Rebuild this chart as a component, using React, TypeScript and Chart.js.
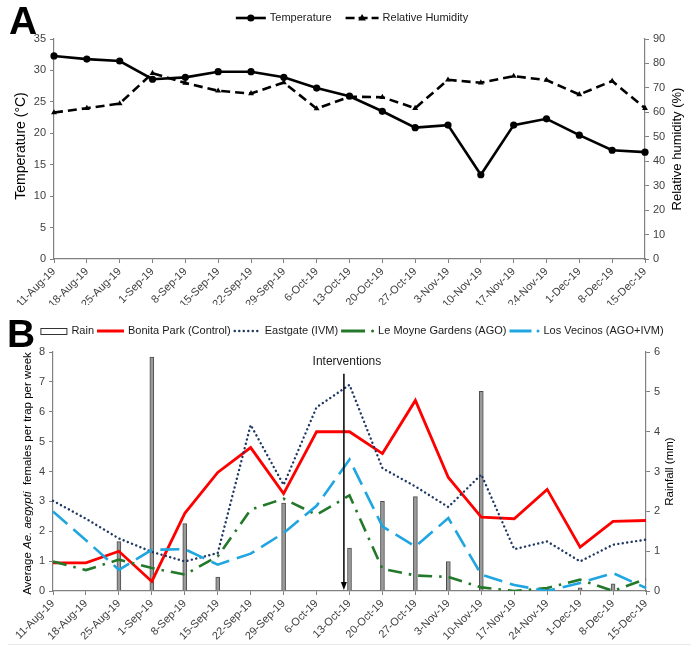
import React, { useEffect, useRef } from "react";
import { Chart, registerables } from "chart.js";

Chart.register(...registerables);

// Weekly sampling dates (both panels share the same weeks)
const weeks = [
  "11-Aug-19", "18-Aug-19", "25-Aug-19", "1-Sep-19", "8-Sep-19", "15-Sep-19",
  "22-Sep-19", "29-Sep-19", "6-Oct-19", "13-Oct-19", "20-Oct-19", "27-Oct-19",
  "3-Nov-19", "10-Nov-19", "17-Nov-19", "24-Nov-19", "1-Dec-19", "8-Dec-19",
  "15-Dec-19",
];

// Panel A: weather
const temperature = [
  32.3, 31.8, 31.5, 28.6, 28.9, 29.8, 29.8, 28.9, 27.2, 25.9, 23.5, 20.9,
  21.3, 13.4, 21.3, 22.3, 19.7, 17.3, 17.0,
];
const humidity = [
  59.9, 61.7, 63.6, 76.0, 72.0, 68.8, 67.7, 72.2, 61.5, 66.4, 66.2, 61.7,
  73.3, 72.1, 74.8, 73.2, 67.3, 72.8, 61.7,
];

// Panel B: rainfall (mm) and trap counts
const rainfall = [
  0, 0, 1.24, 5.87, 1.69, 0.35, 0, 2.21, 0, 1.08, 2.25, 2.37,
  0.74, 5.01, 0, 0.05, 0.08, 0.18, 0,
];
const bonitaPark = [
  0.94, 0.94, 1.33, 0.32, 2.6, 3.97, 4.8, 3.26, 5.33, 5.33, 4.6, 6.38,
  3.8, 2.47, 2.42, 3.4, 1.47, 2.33, 2.36,
];
const eastgate = [
  3.02, 2.42, 1.76, 1.31, 0.99, 1.27, 5.56, 3.55, 6.15, 6.9, 4.11, 3.5,
  2.81, 3.9, 1.4, 1.66, 0.99, 1.55, 1.72,
];
const leMoyneGardens = [
  0.99, 0.7, 1.05, 0.77, 0.55, 1.16, 2.72, 3.09, 2.55, 3.2, 0.74, 0.52,
  0.47, 0.12, 0, 0.1, 0.38, 0, 0.4,
];
const losVecinos = [
  2.66, 1.7, 0.71, 1.38, 1.4, 0.88, 1.25, 1.94, 2.85, 4.4, 2.16, 1.49,
  2.44, 0.55, 0.2, 0, 0.27, 0.6, 0.1,
];

// Interventions marker (fractional week index) and the height of its arrow
const interventionWeek = 8.83;
const interventionTop = 7.27;

const FONT = "'Liberation Sans', Arial, sans-serif";
const TICK_COLOR = "#404040";
const AXIS_COLOR = "#808080";

const RED = "#ff0000";
const NAVY = "#1f3864";
const GREEN = "#23782a";
const BLUE = "#1fa6e0";

function xAxis(height: number) {
  return {
    type: "category" as const,
    offset: false,
    ticks: {
      autoSkip: false,
      maxRotation: 45,
      minRotation: 45,
      color: TICK_COLOR,
      font: { family: FONT, size: 11 },
      padding: 2,
    },
    grid: {
      display: true,
      drawOnChartArea: false,
      drawTicks: true,
      tickLength: 4,
      color: AXIS_COLOR,
      offset: false,
    },
    border: { display: true, color: AXIS_COLOR, width: 1.2 },
    afterFit: (s: any) => {
      s.height = height;
    },
  };
}

function yAxis(position: "left" | "right", max: number, step: number, width: number) {
  return {
    type: "linear" as const,
    position,
    min: 0,
    max,
    ticks: {
      stepSize: step,
      color: TICK_COLOR,
      font: { family: FONT, size: 11 },
      padding: 4,
    },
    grid: {
      display: true,
      drawOnChartArea: false,
      drawTicks: true,
      tickLength: 4,
      color: AXIS_COLOR,
    },
    border: { display: true, color: AXIS_COLOR, width: 1.2 },
    afterFit: (s: any) => {
      s.width = width;
    },
  };
}

type Segment = { text: string; italic?: boolean };

// Vertical axis title reading bottom-to-top, with optional italic runs
function drawVerticalTitle(ctx: CanvasRenderingContext2D, segments: Segment[], cx: number, cy: number, size: number) {
  ctx.save();
  ctx.translate(cx, cy);
  ctx.rotate(-Math.PI / 2);
  ctx.fillStyle = "#000";
  ctx.textBaseline = "middle";
  ctx.textAlign = "left";
  const fontFor = (s: Segment) => `${s.italic ? "italic " : ""}${size}px ${FONT}`;
  let total = 0;
  for (const s of segments) {
    ctx.font = fontFor(s);
    total += ctx.measureText(s.text).width;
  }
  let x = -total / 2;
  for (const s of segments) {
    ctx.font = fontFor(s);
    ctx.fillText(s.text, x, 0);
    x += ctx.measureText(s.text).width;
  }
  ctx.restore();
}

type LegendEntry = {
  label: string;
  width: number;
  sample: (ctx: CanvasRenderingContext2D, x: number, y: number, w: number) => void;
};

function drawLegend(ctx: CanvasRenderingContext2D, entries: LegendEntry[], cx: number, y: number, size: number, gap: number, itemGap: number) {
  ctx.save();
  ctx.font = `${size}px ${FONT}`;
  const widths = entries.map((e) => e.width + gap + ctx.measureText(e.label).width);
  const total = widths.reduce((a, b) => a + b, 0) + itemGap * (entries.length - 1);
  let x = cx - total / 2;
  entries.forEach((e, i) => {
    ctx.save();
    e.sample(ctx, x, y, e.width);
    ctx.restore();
    ctx.font = `${size}px ${FONT}`;
    ctx.fillStyle = "#1a1a1a";
    ctx.textBaseline = "middle";
    ctx.textAlign = "left";
    ctx.fillText(e.label, x + e.width + gap, y);
    x += widths[i] + itemGap;
  });
  ctx.restore();
}

function strokeLine(ctx: CanvasRenderingContext2D, x0: number, x1: number, y: number, color: string, width: number, dash: number[], cap: CanvasLineCap = "butt") {
  ctx.beginPath();
  ctx.strokeStyle = color;
  ctx.lineWidth = width;
  ctx.lineCap = cap;
  ctx.setLineDash(dash);
  ctx.moveTo(x0, y);
  ctx.lineTo(x1, y);
  ctx.stroke();
  ctx.setLineDash([]);
}

const weatherDecor = {
  id: "weatherDecor",
  afterDraw(chart: any) {
    const { ctx, chartArea } = chart;
    const cy = (chartArea.top + chartArea.bottom) / 2;
    drawVerticalTitle(ctx, [{ text: "Temperature (°C)" }], 21, cy - 3, 14);
    drawVerticalTitle(ctx, [{ text: "Relative humidity (%)" }], 677, cy, 13);
    drawLegend(
      ctx,
      [
        {
          label: "Temperature",
          width: 30,
          sample: (c, x, y, w) => {
            strokeLine(c, x, x + w, y, "#000", 2.6, []);
            c.beginPath();
            c.fillStyle = "#000";
            c.arc(x + w / 2, y, 3.6, 0, Math.PI * 2);
            c.fill();
          },
        },
        {
          label: "Relative Humidity",
          width: 33,
          sample: (c, x, y, w) => {
            strokeLine(c, x, x + w, y, "#000", 2.6, [9, 4]);
            c.beginPath();
            c.fillStyle = "#000";
            const mx = x + w / 2;
            c.moveTo(mx, y - 4);
            c.lineTo(mx + 3.8, y + 2.5);
            c.lineTo(mx - 3.8, y + 2.5);
            c.closePath();
            c.fill();
          },
        },
      ],
      352,
      18,
      11,
      4,
      14
    );
  },
};

const mosquitoDecor = {
  id: "mosquitoDecor",
  afterDatasetsDraw(chart: any) {
    const { ctx, scales } = chart;
    const px = scales.x.getPixelForValue(interventionWeek);
    const top = scales.y.getPixelForValue(interventionTop);
    const bottom = scales.y.getPixelForValue(0);
    ctx.save();
    ctx.strokeStyle = "#000";
    ctx.lineWidth = 1.5;
    ctx.beginPath();
    ctx.moveTo(px, top);
    ctx.lineTo(px, bottom - 7);
    ctx.stroke();
    ctx.beginPath();
    ctx.fillStyle = "#000";
    ctx.moveTo(px, bottom - 1);
    ctx.lineTo(px - 3, bottom - 9);
    ctx.lineTo(px + 3, bottom - 9);
    ctx.closePath();
    ctx.fill();
    ctx.font = `12px ${FONT}`;
    ctx.textAlign = "center";
    ctx.textBaseline = "middle";
    ctx.fillStyle = "#1a1a1a";
    ctx.fillText("Interventions", px + 3, top - 12);
    ctx.restore();
  },
  afterDraw(chart: any) {
    const { ctx, chartArea } = chart;
    const cy = (chartArea.top + chartArea.bottom) / 2;
    drawVerticalTitle(
      ctx,
      [
        { text: "Average " },
        { text: "Ae. aegypti", italic: true },
        { text: "  females per trap per week" },
      ],
      28,
      cy + 2,
      11.5
    );
    drawVerticalTitle(ctx, [{ text: "Rainfall (mm)" }], 670, cy, 11.5);
    drawLegend(
      ctx,
      [
        {
          label: "Rain",
          width: 27,
          sample: (c, x, y, w) => {
            c.fillStyle = "#fff";
            c.strokeStyle = "#333";
            c.lineWidth = 1;
            c.fillRect(x, y - 3, w, 7);
            c.strokeRect(x + 0.5, y - 3 + 0.5, w - 1, 6);
          },
        },
        {
          label: "Bonita Park (Control)",
          width: 27,
          sample: (c, x, y, w) => strokeLine(c, x, x + w, y, RED, 3, []),
        },
        {
          label: "Eastgate (IVM)",
          width: 27,
          sample: (c, x, y, w) => strokeLine(c, x + 1, x + w, y, NAVY, 2.4, [0.1, 4.4], "round"),
        },
        {
          label: "Le Moyne Gardens (AGO)",
          width: 33,
          sample: (c, x, y, w) => {
            strokeLine(c, x, x + 24, y, GREEN, 3, []);
            c.beginPath();
            c.fillStyle = GREEN;
            c.arc(x + w - 1.5, y, 1.5, 0, Math.PI * 2);
            c.fill();
          },
        },
        {
          label: "Los Vecinos (AGO+IVM)",
          width: 30,
          sample: (c, x, y, w) => {
            strokeLine(c, x, x + 22, y, BLUE, 3, []);
            c.beginPath();
            c.fillStyle = BLUE;
            c.arc(x + w - 1.5, y, 1.5, 0, Math.PI * 2);
            c.fill();
          },
        },
      ],
      352,
      26,
      11,
      4,
      3
    );
  },
};

function WeatherChart() {
  const ref = useRef<HTMLCanvasElement | null>(null);
  useEffect(() => {
    if (!ref.current) return;
    const chart = new Chart(ref.current, {
      type: "line",
      data: {
        labels: weeks,
        datasets: [
          {
            label: "Temperature",
            data: temperature,
            yAxisID: "y",
            borderColor: "#000",
            backgroundColor: "#000",
            borderWidth: 2.6,
            pointStyle: "circle",
            pointRadius: 3.6,
            pointBorderWidth: 0,
            tension: 0,
          },
          {
            label: "Relative Humidity",
            data: humidity,
            yAxisID: "y1",
            borderColor: "#000",
            backgroundColor: "#000",
            borderWidth: 2.6,
            borderDash: [9, 5],
            pointStyle: "triangle",
            pointRadius: 3.4,
            pointBorderWidth: 0,
            tension: 0,
          },
        ],
      },
      options: {
        responsive: false,
        animation: false,
        layout: { padding: { top: 39, bottom: 0, left: 0, right: 0 } },
        plugins: { legend: { display: false }, tooltip: { enabled: false } },
        scales: {
          x: xAxis(46),
          y: yAxis("left", 35, 5, 54),
          y1: yAxis("right", 90, 10, 55),
        } as any,
      },
      plugins: [weatherDecor],
    });
    return () => chart.destroy();
  }, []);
  return <canvas ref={ref} width={700} height={305} style={{ position: "absolute", left: 0, top: 0 }} />;
}

function MosquitoChart() {
  const ref = useRef<HTMLCanvasElement | null>(null);
  useEffect(() => {
    if (!ref.current) return;
    const chart = new Chart(ref.current, {
      type: "bar",
      data: {
        labels: weeks,
        datasets: [
          {
            type: "bar",
            label: "Rain",
            data: rainfall,
            yAxisID: "y1",
            backgroundColor: "#9a9a9a",
            borderColor: "#4d4d4d",
            borderWidth: 1,
            barThickness: 4,
            order: 10,
          },
          {
            type: "line",
            label: "Bonita Park (Control)",
            data: bonitaPark,
            yAxisID: "y",
            borderColor: RED,
            borderWidth: 2.8,
            pointRadius: 0,
            tension: 0,
            order: 4,
          },
          {
            type: "line",
            label: "Eastgate (IVM)",
            data: eastgate,
            yAxisID: "y",
            borderColor: NAVY,
            borderWidth: 2.4,
            borderDash: [0.1, 4.4],
            borderCapStyle: "round",
            pointRadius: 0,
            tension: 0,
            order: 3,
          },
          {
            type: "line",
            label: "Le Moyne Gardens (AGO)",
            data: leMoyneGardens,
            yAxisID: "y",
            borderColor: GREEN,
            borderWidth: 2.6,
            borderDash: [14, 7, 2.5, 7],
            pointRadius: 0,
            tension: 0,
            order: 2,
          },
          {
            type: "line",
            label: "Los Vecinos (AGO+IVM)",
            data: losVecinos,
            yAxisID: "y",
            borderColor: BLUE,
            borderWidth: 2.6,
            borderDash: [19, 8],
            pointRadius: 0,
            tension: 0,
            order: 1,
          },
        ] as any,
      },
      options: {
        responsive: false,
        animation: false,
        layout: { padding: { top: 47, bottom: 0, left: 0, right: 0 } },
        plugins: { legend: { display: false }, tooltip: { enabled: false } },
        scales: {
          x: xAxis(56),
          y: yAxis("left", 8, 1, 53),
          y1: yAxis("right", 6, 1, 54),
        } as any,
      },
      plugins: [mosquitoDecor],
    });
    return () => chart.destroy();
  }, []);
  return <canvas ref={ref} width={700} height={342} style={{ position: "absolute", left: 0, top: 305 }} />;
}

const panelLetter: React.CSSProperties = {
  position: "absolute",
  fontFamily: FONT,
  fontWeight: "bold",
  fontSize: 39,
  lineHeight: "39px",
  color: "#000",
};

export default function App() {
  return (
    <div
      style={{
        position: "fixed",
        left: 0,
        top: 0,
        width: 700,
        height: 647,
        background: "#fff",
        overflow: "hidden",
      }}
    >
      <WeatherChart />
      <MosquitoChart />
      <div style={{ ...panelLetter, left: 9, top: 1 }}>A</div>
      <div style={{ ...panelLetter, left: 7, top: 314 }}>B</div>
      <div
        style={{
          position: "absolute",
          left: 8,
          top: 644,
          width: 683,
          height: 1,
          background: "#e8e8e8",
        }}
      />
    </div>
  );
}
